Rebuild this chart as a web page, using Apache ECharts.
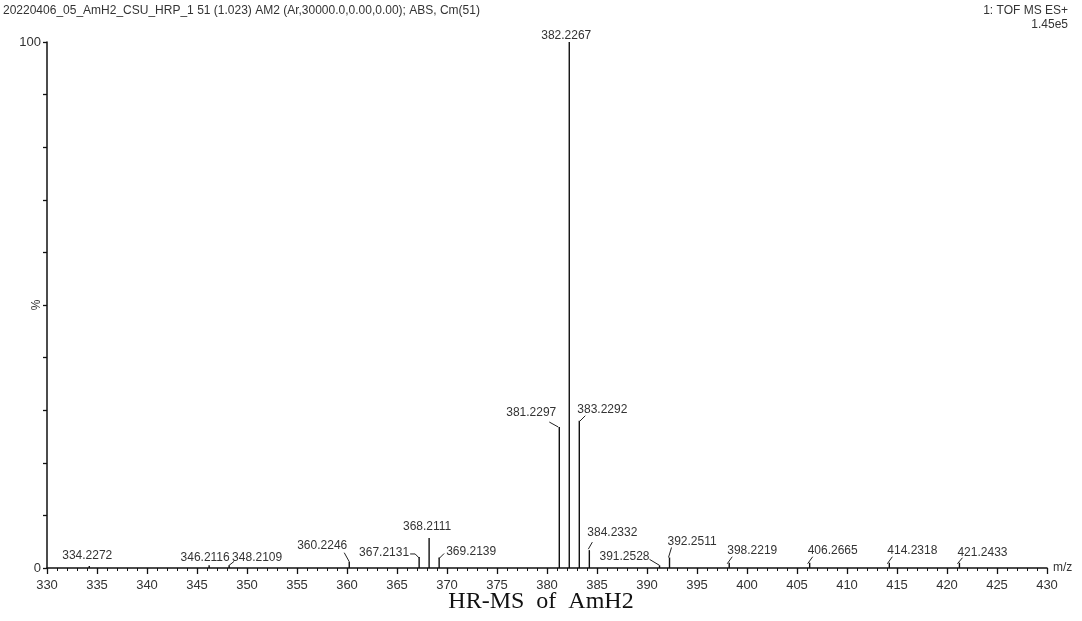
<!DOCTYPE html>
<html><head><meta charset="utf-8">
<script src="https://cdn.jsdelivr.net/npm/echarts@6/dist/echarts.min.js"></script>
<style>html,body{margin:0;padding:0;background:#fff}#c{width:1082px;height:621px}</style>
</head><body><div id="c"></div>
<script>
// ---- data ----
const peakMz = [334.2272, 346.2116, 348.2109, 360.2246, 367.2131, 368.2111, 369.2139, 381.2297, 382.2267, 383.2292, 384.2332, 391.2528, 392.2511, 398.2219, 406.2665, 414.2318, 421.2433];
const peakIntensity = [0.4, 0.5, 0.5, 1.2, 2.1, 5.7, 2.0, 26.8, 100, 28.0, 3.4, 0.5, 2.0, 1.0, 1.0, 1.0, 1.0];
const peakLabels = ["334.2272", "346.2116", "348.2109", "360.2246", "367.2131", "368.2111", "369.2139", "381.2297", "382.2267", "383.2292", "384.2332", "391.2528", "392.2511", "398.2219", "406.2665", "414.2318", "421.2433"];
const yTickLabels = { 0: "0", 100: "100" };
const yAxisTitle = "%";
const headerLeft = "20220406_05_AmH2_CSU_HRP_1 51 (1.023) AM2 (Ar,30000.0,0.00,0.00); ABS, Cm(51)";
const headerRight1 = "1: TOF MS ES+";
const headerRight2 = "1.45e5";
const captionText = "HR-MS  of  AmH2";

// ---- label layout (pixel offsets from each peak top) ----
const labelLayout = [
  { dx: -2, dy: -10, align: 'center' },
  { dx: -4, dy: -8, align: 'center' },
  { dx: 3, dy: -8, align: 'left', leader: [[5, -4], [0, 0]] },
  { dx: -2, dy: -16, align: 'right', leader: [[-5, -9], [0, 0]] },
  { dx: -10, dy: -4, align: 'right', leader: [[-9, -3], [-4, -3], [0, 1]] },
  { dx: -2, dy: -11, align: 'center' },
  { dx: 7, dy: -6, align: 'left', leader: [[5, -4], [0, 1]] },
  { dx: -3, dy: -14, align: 'right', leader: [[-10, -5], [-1, 0]] },
  { dx: -3, dy: -6, align: 'center' },
  { dx: -2, dy: -11, align: 'left', leader: [[6, -5], [0, 1]] },
  { dx: -2, dy: -17, align: 'left', leader: [[3, -8], [-1, -1]] },
  { dx: -10, dy: -9, align: 'right', leader: [[-10, -6], [0, 0]] },
  { dx: -2, dy: -16, align: 'left', leader: [[2, -10], [-1, 0]] },
  { dx: -2, dy: -12, align: 'left', leader: [[3, -6], [-2, 1]] },
  { dx: -2, dy: -12, align: 'left', leader: [[3, -6], [-2, 1]] },
  { dx: -2, dy: -12, align: 'left', leader: [[3, -6], [-2, 1]] },
  { dx: -2, dy: -10, align: 'left', leader: [[3, -5], [-2, 1]] }
];

const FONT = '"Liberation Sans", Arial, sans-serif';
const chart = echarts.init(document.getElementById('c'), null, { renderer: 'canvas' });

chart.setOption({
  backgroundColor: '#fff',
  animation: false,
  grid: { left: 47, right: 35, top: 42, bottom: 53, containLabel: false, outerBoundsMode: 'none' },
  xAxis: {
    type: 'value', min: 330, max: 430, interval: 5,
    axisLine: { show: true, onZero: false, lineStyle: { color: '#111', width: 1.5 } },
    axisTick: { show: true, inside: false, length: 6, lineStyle: { color: '#111', width: 1.3 } },
    minorTick: { show: true, splitNumber: 5, length: 3, lineStyle: { color: '#111', width: 1 } },
    axisLabel: { color: '#333', fontFamily: FONT, fontSize: 13, margin: 11 },
    splitLine: { show: false },
    name: 'm/z', nameLocation: 'end', nameGap: 6,
    nameTextStyle: { color: '#333', fontFamily: FONT, fontSize: 12, verticalAlign: 'middle' }
  },
  yAxis: {
    type: 'value', min: 0, max: 100, interval: 10,
    axisLine: { show: true, lineStyle: { color: '#111', width: 1.5 } },
    axisTick: { show: true, inside: false, length: 4, lineStyle: { color: '#111', width: 1.3 } },
    axisLabel: {
      color: '#333', fontFamily: FONT, fontSize: 13, margin: 6,
      formatter: v => (yTickLabels[v] !== undefined ? yTickLabels[v] : '')
    },
    splitLine: { show: false }
  },
  graphic: [
    { type: 'text', left: 3, top: 5, style: { text: headerLeft, fill: '#333', font: '12px ' + FONT } },
    { type: 'text', right: 14, top: 5, style: { text: headerRight1, fill: '#333', font: '12px ' + FONT } },
    { type: 'text', right: 14, top: 19, style: { text: headerRight2, fill: '#333', font: '12px ' + FONT } },
    { type: 'text', x: 37, y: 305, rotation: Math.PI / 2, style: { text: yAxisTitle, fill: '#333', font: '12px ' + FONT, align: 'center', verticalAlign: 'middle' } },
    { type: 'text', left: 'center', top: 590, style: { text: captionText, fill: '#111', font: '24px "Liberation Serif", "Times New Roman", serif' } }
  ],
  series: [{
    type: 'custom',
    coordinateSystem: 'cartesian2d',
    clip: false,
    encode: { x: 0, y: 1 },
    data: peakMz.map((m, i) => [m, peakIntensity[i]]),
    renderItem: function (params, api) {
      const i = params.dataIndex;
      const x = api.value(0), v = api.value(1);
      const base = api.coord([x, 0]);
      const top = api.coord([x, v]);
      const L = labelLayout[i];
      const children = [
        { type: 'line', shape: { x1: base[0], y1: base[1], x2: top[0], y2: top[1] }, style: { stroke: '#111', lineWidth: 1.4 } },
        { type: 'text', style: { text: peakLabels[i], x: top[0] + L.dx, y: top[1] + L.dy, align: L.align, verticalAlign: 'middle', fill: '#333', font: '12px ' + FONT } }
      ];
      if (L.leader) {
        children.push({ type: 'polyline', shape: { points: L.leader.map(p => [top[0] + p[0], top[1] + p[1]]) }, style: { stroke: '#222', fill: null, lineWidth: 1 } });
      }
      return { type: 'group', children: children };
    }
  }]
});
</script>
</body></html>
